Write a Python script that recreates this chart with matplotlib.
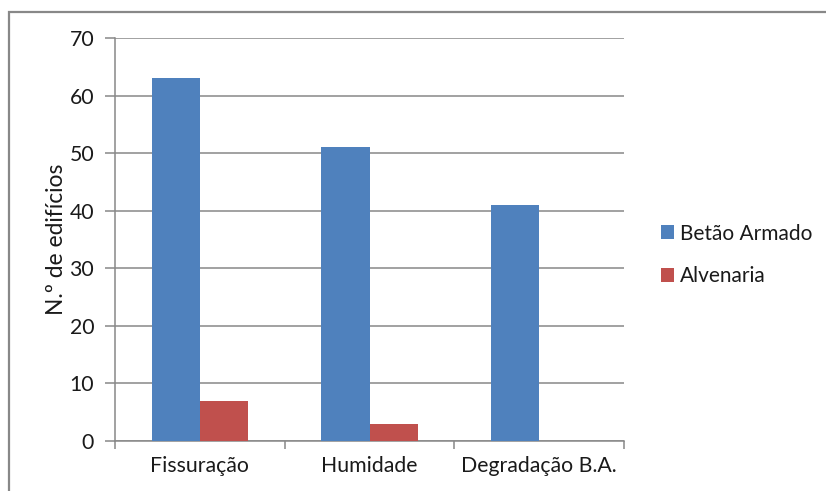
import numpy as np
import matplotlib
matplotlib.use("Agg")
import matplotlib.pyplot as plt
from matplotlib.patches import Rectangle

# %% DATA
categories = ['Fissuração', 'Humidade', 'Degradação B.A.']
betao      = [63, 51, 41]
alvenaria  = [7, 3, 0]
series     = ['Betão Armado', 'Alvenaria']
yticks     = [0, 10, 20, 30, 40, 50, 60, 70]

# %% STYLE
plt.rcParams['font.family'] = ['Lato', 'DejaVu Sans']
blue  = '#4f81bd'
red   = '#c0504d'
grey  = '#888888'
txt   = '#1a1a1a'

fig = plt.figure(figsize=(8.26, 4.91), dpi=100)
ax  = fig.add_axes([115/826, 1-441/491, 509/826, 403/491])

# Outer chart frame (cut off at right/bottom as in the original)
fig.patches.append(Rectangle((9/826, -0.1), 1.2, 1-12/491+0.1,
                             transform=fig.transFigure, fill=False,
                             edgecolor=grey, linewidth=1.6))

x = np.arange(len(categories))
w = 0.283
ax.bar(x - w/2, betao, w, color=blue, label=series[0], zorder=3)
ax.bar(x + w/2, alvenaria, w, color=red, label=series[1], zorder=3)

ax.set_xlim(-0.5, len(categories) - 0.5)
ax.set_ylim(0, 70)
ax.set_yticks(yticks)
ax.set_yticklabels([str(v) for v in yticks], fontsize=15.3, color=txt)
ax.yaxis.grid(True, color=grey, linewidth=1.1, zorder=0)

ax.set_xticks(x)
ax.set_xticklabels(categories, fontsize=15.3, color=txt)
ax.set_xticks(np.arange(len(categories) + 1) - 0.5, minor=True)
ax.tick_params(axis='x', which='major', length=0, pad=11)
ax.tick_params(axis='x', which='minor', length=6, color=grey, width=1.1)
ax.tick_params(axis='y', length=7, color=grey, width=1.1, pad=8)

for s in ['top', 'right']:
    ax.spines[s].set_visible(False)
for s in ['left', 'bottom']:
    ax.spines[s].set_color(grey)
    ax.spines[s].set_linewidth(1.1)

ax.set_ylabel('N.º de edifícios', fontsize=16.4, color=txt, labelpad=2)

ax.legend(loc='center left', bbox_to_anchor=(642/826, 1-255/491),
          bbox_transform=fig.transFigure, frameon=False, fontsize=15,
          handlelength=0.62, handleheight=0.62, handletextpad=0.3,
          labelspacing=1.1, labelcolor=txt)

fig.savefig('out.png', dpi=100)
